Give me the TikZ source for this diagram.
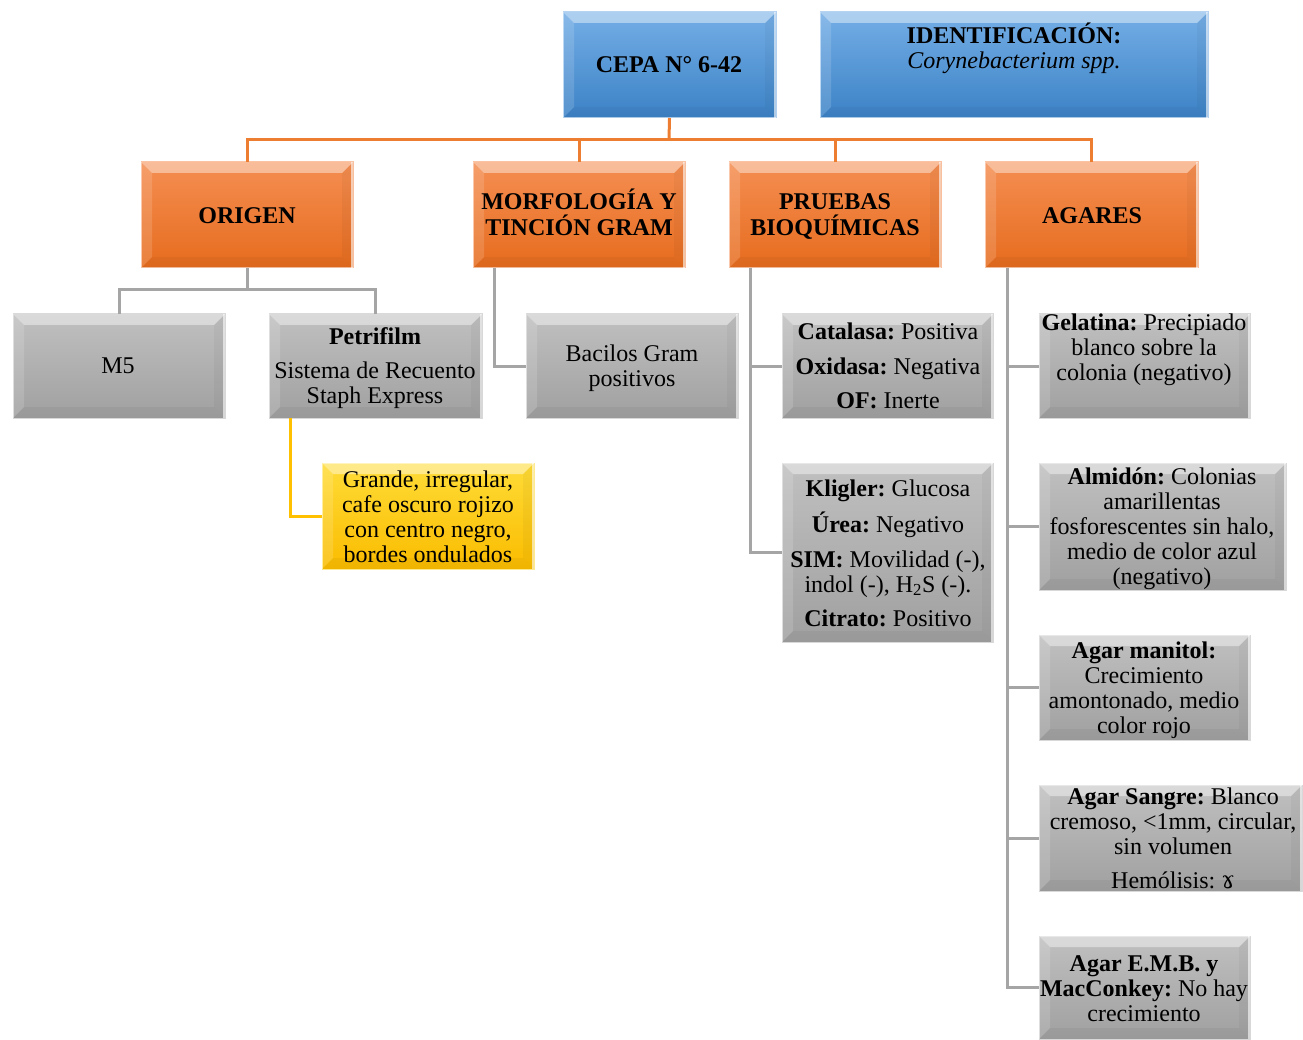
\documentclass[tikz,border=0pt]{standalone}
\usepackage{fontspec}
\setmainfont{Liberation Serif}
\newfontfamily\dvs{DejaVu Serif}
\frenchspacing
\definecolor{bluetop}{RGB}{116,174,230}
\definecolor{bluebot}{RGB}{60,130,198}
\definecolor{orangetop}{RGB}{245,142,82}
\definecolor{orangebot}{RGB}{230,108,30}
\definecolor{graytop}{RGB}{192,192,192}
\definecolor{graybot}{RGB}{160,160,160}
\definecolor{yellowtop}{RGB}{255,220,55}
\definecolor{yellowbot}{RGB}{250,188,0}
\definecolor{lineorange}{RGB}{237,125,49}
\definecolor{linegray}{RGB}{165,165,165}
\definecolor{lineyellow}{RGB}{255,192,0}
\newcommand{\bevbox}[6]{%
  \node[#6, anchor=north west, minimum width={(#4-#2)*1pt}, minimum height={(#5-#3)*1pt}, inner sep=0pt, outer sep=0pt] (#1) at (#2,#3) {};
  \fill[white,opacity=.42] (#1.north west) -- (#1.north east) -- ([shift={(-11,11)}]#1.north east) -- ([shift={(11,11)}]#1.north west) -- cycle;
  \fill[white,opacity=.14] (#1.north west) -- ([shift={(11,11)}]#1.north west) -- ([shift={(11,-11)}]#1.south west) -- (#1.south west) -- cycle;
  \fill[black,opacity=.035] (#1.north east) -- ([shift={(-11,11)}]#1.north east) -- ([shift={(-11,-11)}]#1.south east) -- (#1.south east) -- cycle;
  \fill[black,opacity=.04] (#1.south west) -- ([shift={(11,-11)}]#1.south west) -- ([shift={(-11,-11)}]#1.south east) -- (#1.south east) -- cycle;
  \draw[white,opacity=.6,line width=1.5pt] ([xshift=-1pt]#1.north east) -- ([xshift=-1pt]#1.south east);
}
\begin{document}
\begin{tikzpicture}[x=1pt,y=-1pt,
  txt/.style={align=center, font=\fontsize{24}{25}\selectfont, inner sep=0pt},
  hd/.style={align=center, font=\fontsize{24}{26}\selectfont\bfseries, inner sep=0pt},
  bluebox/.style={top color=bluetop, bottom color=bluebot, draw=bluetop!55!white, line width=1pt},
  orangebox/.style={top color=orangetop, bottom color=orangebot, draw=orangetop!55!white, line width=1pt},
  graybox/.style={top color=graytop, bottom color=graybot, draw=graytop!60!white, line width=1pt},
  yellowbox/.style={top color=yellowtop, bottom color=yellowbot, draw=yellowtop!55!white, line width=1pt},
  oline/.style={draw=lineorange, line width=3pt},
  gline/.style={draw=linegray, line width=3pt},
  yline/.style={draw=lineyellow, line width=3pt}]
\useasboundingbox (0,0) rectangle (1303,1040);
\fill[white] (0,0) rectangle (1303,1040);

% connectors (behind boxes)
\coordinate (obus) at (669,140);
\coordinate (gbus) at (247,290);

% boxes
\bevbox{cepa}{563}{12}{776}{118}{bluebox}
\bevbox{ident}{820}{12}{1208}{118}{bluebox}
\bevbox{origen}{141}{162}{353}{268}{orangebox}
\bevbox{morf}{473}{162}{685}{268}{orangebox}
\bevbox{pru}{729}{162}{941}{268}{orangebox}
\bevbox{aga}{985}{162}{1198}{268}{orangebox}
\bevbox{m5}{13}{314}{225}{418}{graybox}
\bevbox{petri}{269}{314}{482}{418}{graybox}
\bevbox{yel}{322}{463}{534}{569}{yellowbox}
\bevbox{bac}{526}{314}{738}{418}{graybox}
\bevbox{cat}{782}{314}{993}{418}{graybox}
\bevbox{kli}{782}{463}{993}{642}{graybox}
\bevbox{gel}{1039}{314}{1250}{418}{graybox}
\bevbox{alm}{1039}{463}{1286}{590}{graybox}
\bevbox{man}{1039}{635}{1250}{740}{graybox}
\bevbox{san}{1039}{785}{1302}{891}{graybox}
\bevbox{emb}{1039}{936}{1250}{1039}{graybox}

% connectors
\draw[oline] (cepa.south) -- (obus);
\draw[oline] (origen.north) |- (obus);
\draw[oline] (morf.north) |- (obus);
\draw[oline] (pru.north) |- (obus);
\draw[oline] (aga.north) |- (obus);

\draw[gline] (origen.south) -- (gbus);
\draw[gline] (m5.north) |- (gbus);
\draw[gline] (petri.north) |- (gbus);

\draw[yline] ([xshift=21pt]petri.south west) |- (yel.west);
\draw[gline] ([xshift=21pt]morf.south west) |- (bac.west);
\draw[gline] ([xshift=21pt]pru.south west) |- (cat.west);
\draw[gline] ([xshift=21pt]pru.south west) |- (kli.west);
\draw[gline] ([xshift=22pt]aga.south west) |- (gel.west);
\draw[gline] ([xshift=22pt]aga.south west) |- (alm.west);
\draw[gline] ([xshift=22pt]aga.south west) |- (man.west);
\draw[gline] ([xshift=22pt]aga.south west) |- (san.west);
\draw[gline] ([xshift=22pt]aga.south west) |- (emb.west);

% texts
\node[hd] (cepa-t) at (669,65) {CEPA N° 6-42};
\node[txt] (ident-t) at (1014,48) {\textbf{IDENTIFICACIÓN:}\\\textit{Corynebacterium spp.}};
\node[hd] (origen-t) at (247,216) {ORIGEN};
\node[hd] (morf-t) at (579,212) {MORFOLOGÍA Y\\TINCIÓN GRAM};
\node[hd] (pru-t) at (835,217) {PRUEBAS\\BIOQUÍMICAS};
\node[hd] (aga-t) at (1092,216) {AGARES};
\node[txt] (m5-t) at (118,366) {M5};
\node[txt] (petri-t) at (375,368) {\textbf{Petrifilm}\\[9pt]Sistema de Recuento\\Staph Express};
\node[txt] (yel-t) at (428,517) {Grande, irregular,\\cafe oscuro rojizo\\con centro negro,\\bordes ondulados};
\node[txt] (bac-t) at (632,368) {Bacilos Gram\\positivos};
\node[txt] (cat-t) at (888,366) {\textbf{Catalasa:} Positiva\\[10pt]\textbf{Oxidasa:} Negativa\\[9pt]\textbf{OF:} Inerte};
\node[txt] (kli-t) at (888,553) {\textbf{Kligler:} Glucosa\\[9pt]\textbf{Úrea:} Negativo\\[10pt]\textbf{SIM:} Movilidad (-),\\indol (-), H\textsubscript{2}S (-).\\[9pt]\textbf{Citrato:} Positivo};
\node[txt] (gel-t) at (1144,350) {\textbf{Gelatina:} Precipiado\\blanco sobre la\\colonia (negativo)};
\node[txt] (alm-t) at (1162,529) {\textbf{Almidón:} Colonias\\amarillentas\\fosforescentes sin halo,\\medio de color azul\\(negativo)};
\node[txt] (man-t) at (1144,690) {\textbf{Agar manitol:}\\Crecimiento\\amontonado, medio\\color rojo};
\node[txt] (san-t) at (1173,838) {\textbf{Agar Sangre:} Blanco\\cremoso, <1mm, circular,\\sin volumen\\[9pt]Hemólisis: {\dvs ɤ}};
\node[txt] (emb-t) at (1144,989) {\textbf{Agar E.M.B. y}\\\textbf{MacConkey:} No hay\\crecimiento};
\end{tikzpicture}
\end{document}
